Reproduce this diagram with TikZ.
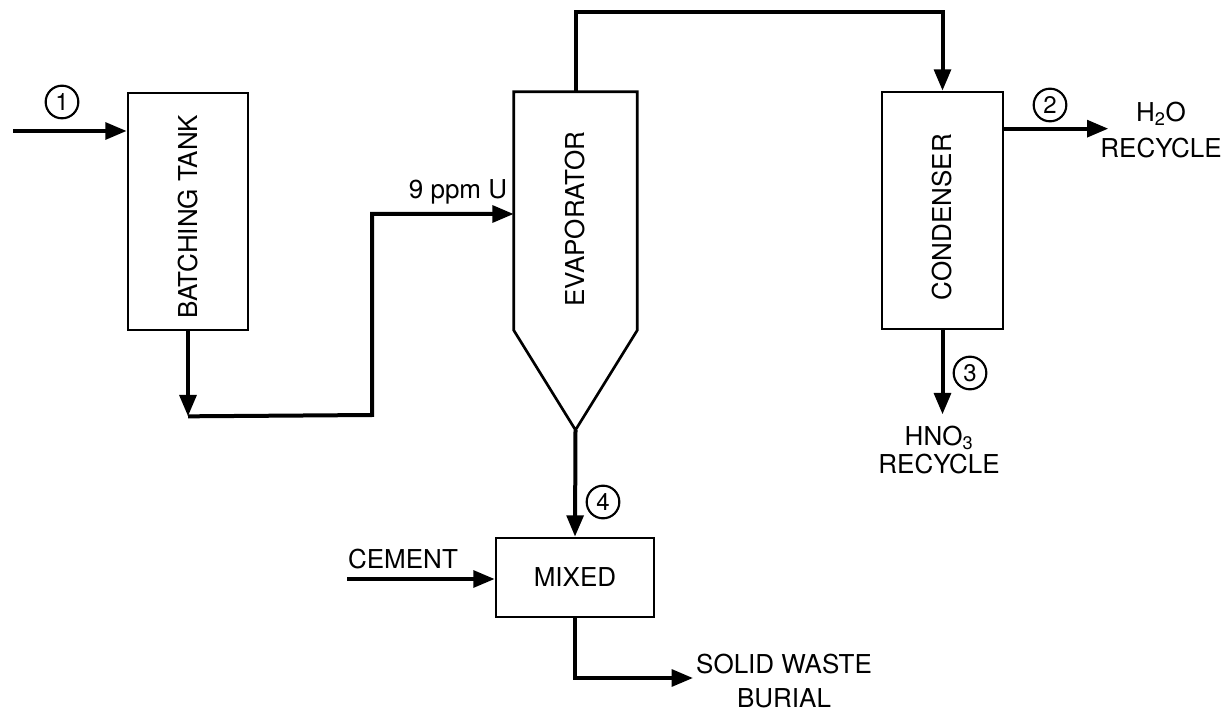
\documentclass[tikz,border=0pt]{standalone}
\usepackage{fontspec}
\setmainfont{TeX Gyre Heros}
\usetikzlibrary{arrows.meta,calc,positioning}
\tikzset{
  unit/.style={draw, line width=2pt, inner sep=0pt},
  flow/.style={line width=3pt, -{Triangle[length=16pt,width=12.5pt]}},
  tag/.style={circle, draw, line width=1.6pt, minimum size=24.5pt, inner sep=0pt, font=\fontsize{18}{18}\selectfont},
  stream/.style={align=center, inner sep=0pt, font=\fontsize{19.5}{25}\selectfont}
}

\begin{document}
\begin{tikzpicture}[x=0.75pt, y=-0.75pt, font=\fontsize{19.5}{25}\selectfont]
  \useasboundingbox (0,0) rectangle (1223,712);
  % process units
  \node[unit, minimum width=90pt, minimum height=177.75pt,
        label={[rotate=90,xshift=-4pt]center:BATCHING TANK}] (batch) at (188,211.5) {};
  \node[inner sep=0pt, minimum width=92.25pt, minimum height=178.5pt,
        label={[rotate=90,xshift=-6pt]center:EVAPORATOR}] (evap) at (575.5,211) {};
  \coordinate (evaptip) at (575.5,430);
  \draw[line width=2pt] (evap.south west) -- (evap.north west) -- (evap.north east)
    -- (evap.south east) -- (evaptip) -- cycle;
  \node[unit, minimum width=90.75pt, minimum height=177.75pt,
        label={[rotate=90,xshift=-5pt]center:CONDENSER}] (cond) at (942.5,210.5) {};
  \node[unit, minimum width=118.5pt, minimum height=59.25pt] (mixed) at (575,577.5) {MIXED};

  % feed to batching tank
  \coordinate (feed) at (13,131);
  \draw[flow] (feed) -- (feed -| batch.west);
  \node[tag] (t1) at (62,102) {1};

  % batching tank to evaporator
  \coordinate (low) at ($(batch.south)+(0,85)$);
  \coordinate (riser) at (372,415);
  \coordinate (ppm) at (372,214);
  \draw[flow] (batch.south) -- (low);
  \draw[flow] (low) -- (riser) -- (ppm) -- (ppm -| evap.west);
  \node[stream] (ppmlabel) at (458,192) {9 ppm U};

  % vapour to condenser
  \draw[flow] (evap.north) -- ++(0,-80) -| (cond.north);

  % condenser outlets
  \coordinate (water) at ($(cond.north east)+(0,38)$);
  \coordinate (waterend) at ($(water)+(104,0)$);
  \draw[flow] (water) -- (waterend);
  \node[tag] (t2) at (1050,105) {2};
  \node[stream, font=\fontsize{19.5}{27}\selectfont] (h2o) at (1161,130) {H\textsubscript{2}O\\RECYCLE};
  \coordinate (acid) at ($(cond.south)+(0,84)$);
  \draw[flow] (cond.south) -- (acid);
  \node[tag] (t3) at (970,373) {3};
  \node[stream, font=\fontsize{19.5}{21}\selectfont] (hno3) at (939,450) {HNO\textsubscript{3}\\RECYCLE};

  % evaporator bottoms to mixer
  \draw[flow] (evaptip) -- (mixed.north);
  \node[tag] (t4) at (603,502) {4};
  \coordinate (cement) at (347,579);
  \draw[flow] (cement) -- (cement -| mixed.west);
  \node[stream] (cementlabel) at (403,559) {CEMENT};
  \coordinate (burial) at (693,678);
  \draw[flow] (mixed.south) |- (burial);
  \node[stream] (burlabel) at (784,681) {SOLID WASTE\\BURIAL};
\end{tikzpicture}
\end{document}
